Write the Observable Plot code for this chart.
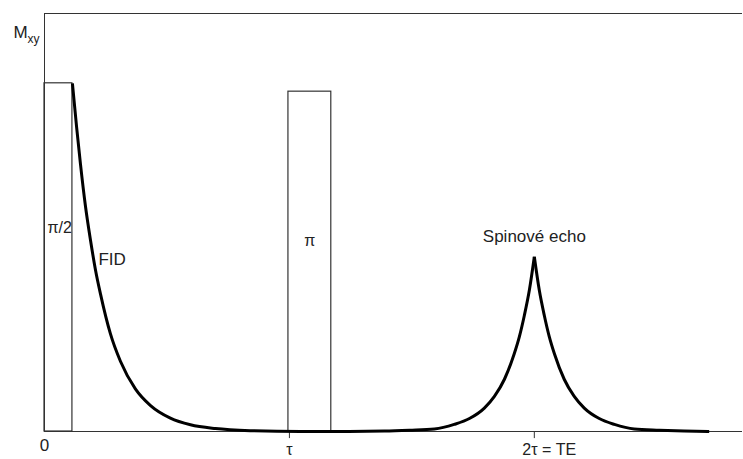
<!DOCTYPE html>
<html><head><meta charset="utf-8">
<script src="https://cdn.jsdelivr.net/npm/d3@7"></script>
<script src="https://cdn.jsdelivr.net/npm/@observablehq/plot@0.6"></script>
<style>body{margin:0;background:#fff}</style>
</head><body><div id="chart"></div>
<script>
// time in units of tau, magnetisation normalised to the frame height
const curveT = [0.114, 0.131, 0.147, 0.167, 0.188, 0.208, 0.229, 0.269, 0.310, 0.371, 0.433, 0.514, 0.596, 0.698, 0.841, 1.045, 1.200,
  1.388, 1.490, 1.592, 1.673, 1.735, 1.796, 1.837, 1.878, 1.918, 1.939, 1.959, 1.980, 2.000,
  2.020, 2.041, 2.061, 2.082, 2.122, 2.163, 2.204, 2.265, 2.327, 2.408, 2.510, 2.612, 2.714];
const curveM = [0.833, 0.729, 0.639, 0.540, 0.457, 0.387, 0.328, 0.234, 0.168, 0.102, 0.062, 0.032, 0.016, 0.007, 0.002, 0.000, 0.000,
  0.001, 0.003, 0.006, 0.017, 0.031, 0.056, 0.084, 0.125, 0.186, 0.227, 0.277, 0.339, 0.418,
  0.339, 0.277, 0.227, 0.186, 0.125, 0.084, 0.056, 0.031, 0.017, 0.006, 0.003, 0.001, 0.000];
const echoTime = 2.0;

const pulseLabels = ["π/2", "π"];
const pulseStart = [0, 0.996];
const pulseEnd = [0.114, 1.171];
const pulseHeight = [0.833, 0.813];

const tickValues = [1, 2];
const tickLabels = ["0", "τ", "2τ = TE"];

const curve = curveT.map((t, i) => ({t, m: curveM[i]}));
const pulses = pulseLabels.map((label, i) => ({label, x1: pulseStart[i], x2: pulseEnd[i], h: pulseHeight[i]}));

const font = "Liberation Sans, Arial, sans-serif";
const ink = "#222";
const lineOpts = {x: "t", y: "m", stroke: "#000", strokeWidth: 3, curve: "monotone-x", strokeLinejoin: "round", strokeLinecap: "butt"};

const chart = Plot.plot({
  width: 743,
  height: 459,
  marginLeft: 44,
  marginRight: 1,
  marginTop: 13,
  marginBottom: 28,
  style: {fontFamily: font, background: "#fff", color: ink},
  x: {domain: [0, 2.85], axis: null},
  y: {domain: [0, 1], axis: null},
  marks: [
    Plot.ruleY([0, 1], {stroke: "#333", strokeWidth: 1}),
    Plot.ruleX([0], {y1: 0, y2: 1, stroke: "#333", strokeWidth: 1}),
    Plot.ruleX(tickValues, {y1: 0, y2: -0.017, stroke: "#333", strokeWidth: 1}),
    Plot.rect(pulses, {x1: "x1", x2: "x2", y1: 0, y2: "h", fill: "none", stroke: "#333", strokeWidth: 1.2}),
    Plot.line(curve.filter(d => d.t <= echoTime), lineOpts),
    Plot.line(curve.filter(d => d.t >= echoTime), lineOpts),
    Plot.text([pulses[0]], {x: "x1", y: 0.488, text: "label", textAnchor: "start", dx: 3, fontSize: 16, fill: ink}),
    Plot.text([pulses[1]], {x: d => (d.x1 + d.x2) / 2, y: 0.455, text: "label", fontSize: 16, fill: ink}),
    Plot.text(["FID"], {x: 0.220, y: 0.411, text: d => d, textAnchor: "start", fontSize: 17, fill: ink}),
    Plot.text(["Spinové echo"], {x: 2.0, y: 0.467, text: d => d, fontSize: 17, fill: ink}),
    Plot.text([tickLabels[0]], {x: 0, y: 0, text: d => d, dy: 14, fontSize: 17, fill: ink}),
    Plot.text([tickLabels[1]], {x: tickValues[0], y: 0, text: d => d, dy: 18, fontSize: 16, fill: ink}),
    Plot.text([tickLabels[2]], {x: tickValues[1], y: 0, text: d => d, dy: 18, dx: -12, textAnchor: "start", fontSize: 16, fill: ink}),
    Plot.text(["M"], {frameAnchor: "top-left", text: d => d, dx: -31, dy: 12, textAnchor: "start", fontSize: 17, fill: ink}),
    Plot.text(["xy"], {frameAnchor: "top-left", text: d => d, dx: -17, dy: 21, textAnchor: "start", fontSize: 12, fill: ink})
  ]
});
document.getElementById("chart").appendChild(chart);
</script>
</body></html>
